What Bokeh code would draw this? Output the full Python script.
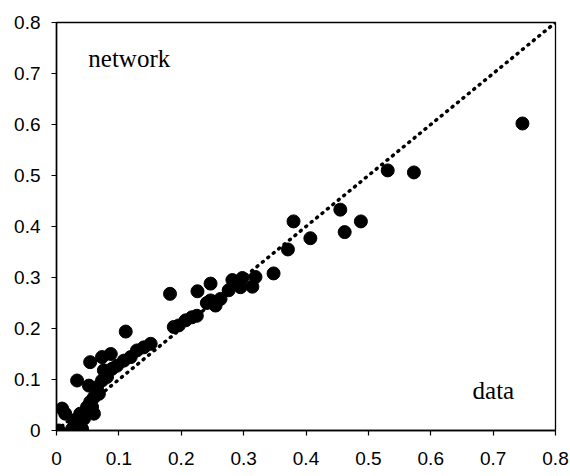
from bokeh.plotting import figure
from bokeh.models import FixedTicker, Label, Range1d
from bokeh.embed import file_html
from bokeh.resources import INLINE

# Data vs. network values (both axes share the same scale)
data_x = [0.747, 0.531, 0.573, 0.455, 0.488, 0.462,
          0.380, 0.407, 0.371, 0.348, 0.182, 0.226, 0.247,
          0.282, 0.298, 0.319, 0.314, 0.276, 0.295,
          0.247, 0.263, 0.255, 0.241, 0.225, 0.217, 0.207, 0.196, 0.188,
          0.111, 0.151, 0.140, 0.129, 0.087, 0.073, 0.054, 0.119, 0.108,
          0.097, 0.089, 0.076, 0.081, 0.073, 0.052, 0.033, 0.065, 0.068,
          0.060, 0.054, 0.049, 0.038, 0.044, 0.028, 0.009, 0.014, 0.004,
          0.025, 0.041, 0.060, 0.057]
network_y = [0.602, 0.510, 0.506, 0.433, 0.410, 0.389,
             0.410, 0.377, 0.355, 0.308, 0.268, 0.273, 0.288,
             0.295, 0.299, 0.301, 0.282, 0.275, 0.281,
             0.255, 0.258, 0.245, 0.250, 0.225, 0.222, 0.216, 0.206, 0.203,
             0.194, 0.170, 0.163, 0.157, 0.150, 0.144, 0.134, 0.144, 0.137,
             0.127, 0.121, 0.118, 0.105, 0.098, 0.088, 0.098, 0.085, 0.072,
             0.065, 0.056, 0.046, 0.033, 0.023, 0.020, 0.043, 0.033, 0.000,
             0.003, 0.003, 0.033, 0.046]

# Identity reference line
diag_x = [0.0, 0.8]
diag_y = [0.0, 0.8]

tick_values = [0.0, 0.1, 0.2, 0.3, 0.4, 0.5, 0.6, 0.7, 0.8]
tick_labels = ["0", "0.1", "0.2", "0.3", "0.4", "0.5", "0.6", "0.7", "0.8"]

p = figure(width=570, height=476, output_backend="svg", toolbar_location=None,
           x_range=Range1d(0, 0.8), y_range=Range1d(0, 0.8),
           min_border_left=56, min_border_right=15,
           min_border_top=22, min_border_bottom=46)

p.background_fill_color = "white"
p.border_fill_color = "white"
p.outline_line_color = "black"
p.outline_line_width = 1.3
p.xgrid.visible = False
p.ygrid.visible = False

overrides = {v: s for v, s in zip(tick_values, tick_labels)}
for ax in (p.xaxis, p.yaxis):
    ax.ticker = FixedTicker(ticks=tick_values)
    ax.major_label_overrides = overrides
    ax.minor_tick_line_color = None
    ax.major_tick_in = 0
    ax.major_tick_out = 5
    ax.axis_line_color = "black"
    ax.axis_line_width = 1.5
    ax.major_tick_line_width = 1.2
    ax.major_label_text_font = "Liberation Sans"
    ax.major_label_text_font_size = "19px"
    ax.major_label_text_color = "black"

p.xaxis.major_label_standoff = 16
p.yaxis.major_label_standoff = 11

p.line(diag_x, diag_y, line_color="black", line_width=3.5,
       line_dash="1 6", line_cap="round")

p.scatter(data_x, network_y, size=13, fill_color="black", line_color="black")

p.add_layout(Label(x=0.051, y=0.73, text="network", text_font="Liberation Serif",
                   text_font_size="25px", text_color="black",
                   text_baseline="alphabetic"))
p.add_layout(Label(x=0.667, y=0.079, text="data", text_font="Liberation Serif",
                   text_font_size="25px", text_color="black",
                   text_baseline="alphabetic"))

open("out.html", "w").write(file_html(p, INLINE))
